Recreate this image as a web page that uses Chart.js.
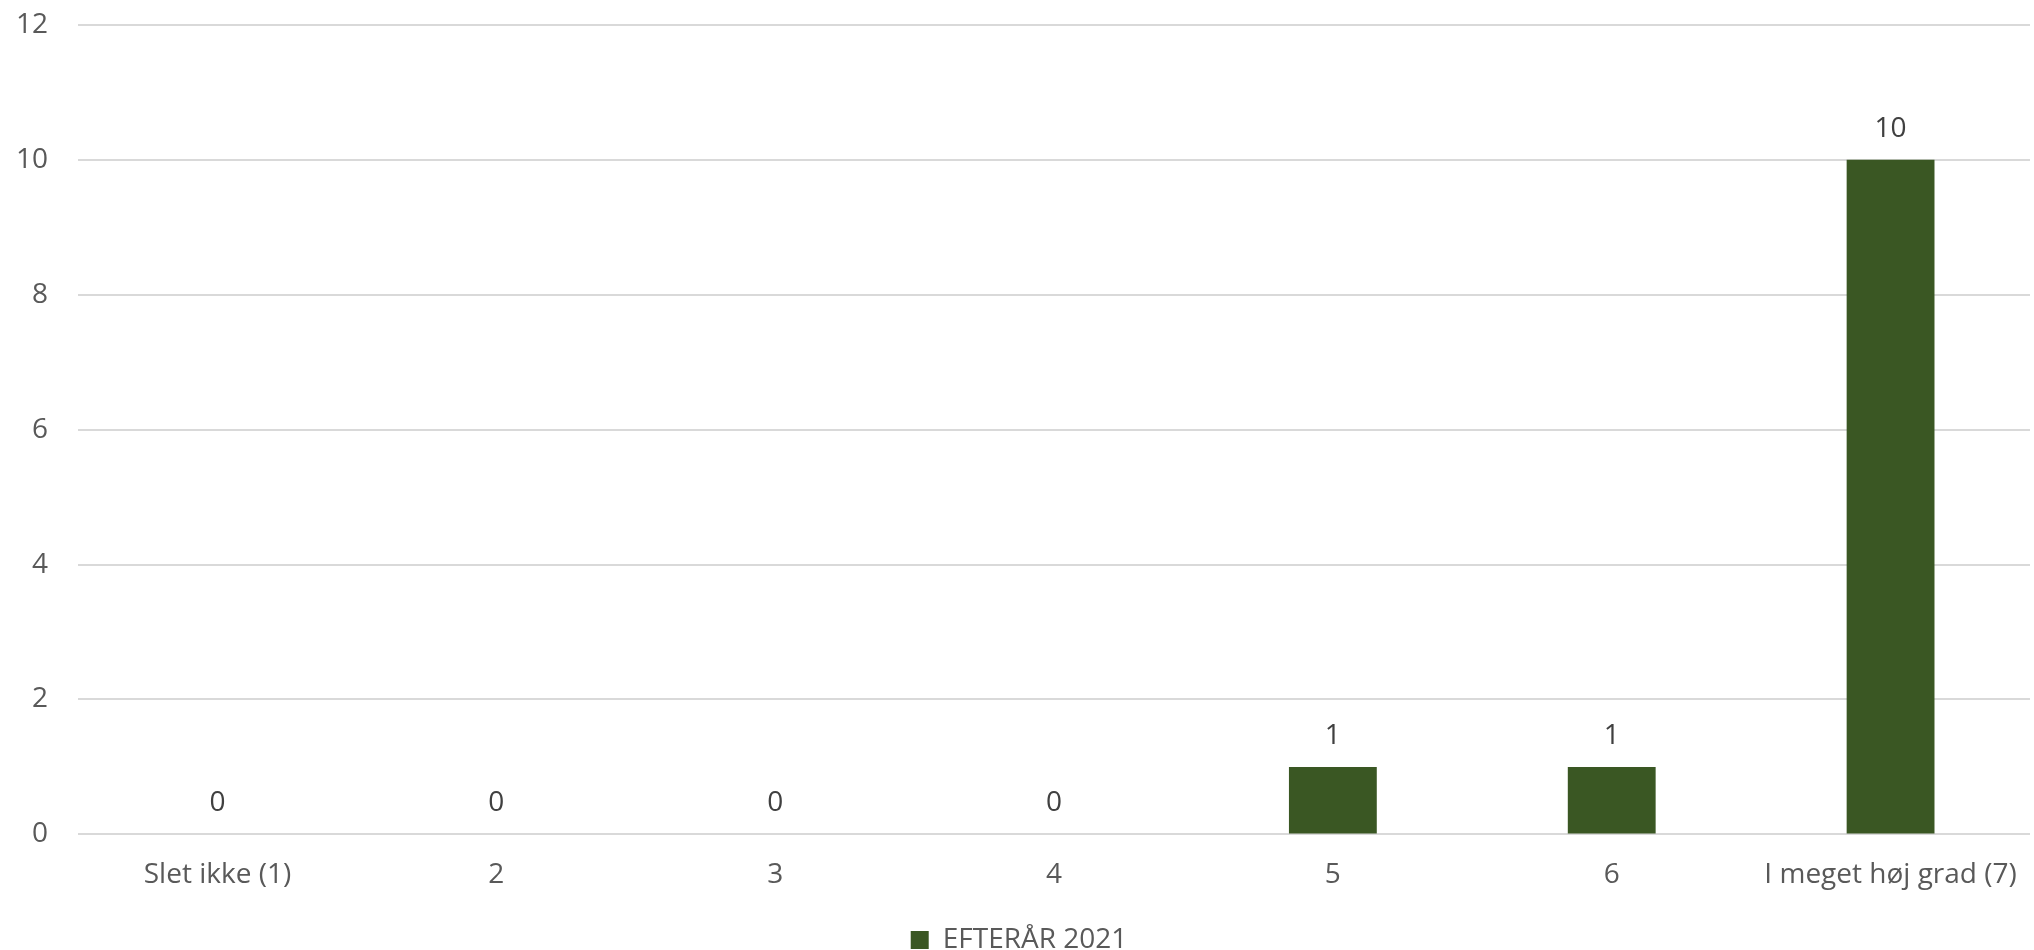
<!DOCTYPE html>
<html>
<head>
<meta charset="utf-8">
<script src="https://cdn.jsdelivr.net/npm/chart.js@4"></script>
<style>
  html, body { margin: 0; padding: 0; background: #fff; }
  #wrap { width: 2034px; height: 950px; }
</style>
</head>
<body>
<div id="wrap"><canvas id="barChart" width="2034" height="950"></canvas></div>
<script>
const categories = ["Slet ikke (1)", "2", "3", "4", "5", "6", "I meget høj grad (7)"];
const seriesName = "EFTERÅR 2021";
const values = [0, 0, 0, 0, 1, 1, 10];
const yTicks = [0, 2, 4, 6, 8, 10, 12];

const fontFamily = "'Open Sans', 'Liberation Sans', sans-serif";

// draws the number above each bar
const valueLabels = {
  id: 'valueLabels',
  afterDatasetsDraw(chart) {
    const ctx = chart.ctx;
    const meta = chart.getDatasetMeta(0);
    ctx.save();
    ctx.font = "28px " + fontFamily;
    ctx.fillStyle = "#404040";
    ctx.textAlign = "center";
    ctx.textBaseline = "middle";
    meta.data.forEach(function (bar, i) {
      ctx.fillText(String(values[i]), bar.x, bar.y - 31);
    });
    ctx.restore();
  }
};

let ctx = document.getElementById("barChart").getContext("2d");

let chart = new Chart(ctx, {
  type: 'bar',
  data: {
    labels: categories,
    datasets: [{
      label: seriesName,
      data: values,
      backgroundColor: '#3a5723',
      borderWidth: 0,
      categoryPercentage: 1,
      barPercentage: 0.315
    }]
  },
  options: {
    responsive: false,
    animation: false,
    layout: { padding: { top: 0, right: 4, left: 8, bottom: -14 } },
    plugins: {
      tooltip: { enabled: false },
      legend: {
        position: 'bottom',
        labels: {
          font: { family: fontFamily, size: 28 },
          color: '#595959',
          boxWidth: 18,
          boxHeight: 18,
          padding: 18
        }
      }
    },
    scales: {
      x: {
        grid: { display: false },
        border: { display: false },
        ticks: {
          font: { family: fontFamily, size: 28 },
          color: '#595959',
          padding: 16
        }
      },
      y: {
        min: 0,
        max: 12,
        afterBuildTicks: function (axis) {
          axis.ticks = yTicks.map(function (v) { return { value: v }; });
        },
        grid: {
          color: '#d9d9d9',
          lineWidth: 2,
          drawTicks: true,
          tickLength: 22,
          tickColor: 'rgba(0,0,0,0)'
        },
        border: { display: false },
        ticks: {
          font: { family: fontFamily, size: 28 },
          color: '#595959',
          padding: 8
        }
      }
    }
  },
  plugins: [valueLabels]
});
</script>
</body>
</html>
